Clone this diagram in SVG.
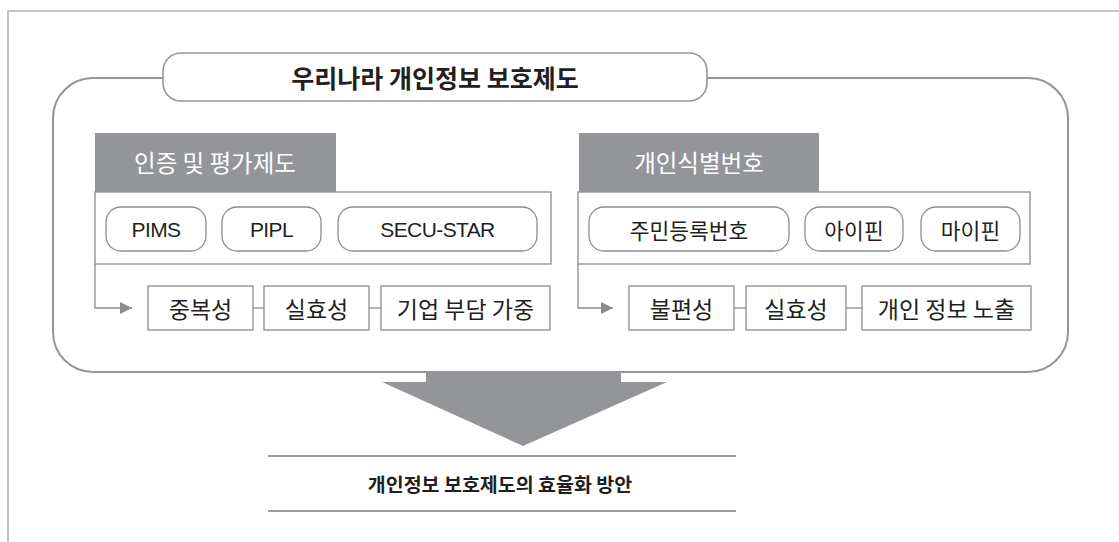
<svg xmlns="http://www.w3.org/2000/svg" width="1119" height="542" viewBox="0 0 1119 542">
<defs>
<style>
.frame{fill:none;stroke:#b3b3b3;stroke-width:1.6}
.big{fill:#fff;stroke:#939598;stroke-width:2}
.pill{fill:#fff;stroke:#8c8c8f;stroke-width:1.3}
.box{fill:#fff;stroke:#8c8c8f;stroke-width:1.3}
.hdr{fill:#939598}
.conn{fill:none;stroke:#8c8c8f;stroke-width:1.3}
.t{font-family:"Noto Sans CJK KR","Noto Sans",sans-serif;fill:#231f20;text-anchor:middle;dominant-baseline:central}
.lat{font-family:"Liberation Sans","Noto Sans CJK KR",sans-serif;fill:#231f20;text-anchor:middle;dominant-baseline:central;font-size:21px;letter-spacing:-0.6px}
.hl{font-family:"Noto Sans CJK KR","Noto Sans",sans-serif;fill:#fff;text-anchor:middle;dominant-baseline:central;font-size:23.5px}
.rule{stroke:#9d9d9f;stroke-width:2.2}
</style>
<marker id="ah" viewBox="0 0 12 12" refX="12" refY="6" markerWidth="12" markerHeight="12" markerUnits="userSpaceOnUse" orient="auto">
<path d="M0,0 L12,6 L0,12 Z" fill="#8c8c8f"/>
</marker>
</defs>
<rect width="1119" height="542" fill="#fff"/>
<path class="frame" d="M8,542 V11 H1119"/>

<g id="main">
<rect class="big" x="53" y="78" width="1015" height="294" rx="40" ry="40"/>
</g>
<g id="title">
<rect x="163" y="53" width="544" height="48" rx="18" ry="18" fill="#fff" stroke="#939598" stroke-width="1.6"/>
<text class="t" x="435" y="77" font-size="25" font-weight="bold">우리나라 개인정보 보호제도</text>
</g>

<g id="cert">
<rect class="box" x="95" y="192" width="456" height="72"/>
<rect class="hdr" x="95" y="133" width="241" height="59"/>
<text class="hl" x="215" y="162">인증 및 평가제도</text>
</g>
<g id="pims"><rect class="pill" x="106" y="207" width="100" height="44" rx="15"/><text class="lat" x="156" y="229">PIMS</text></g>
<g id="pipl"><rect class="pill" x="222" y="207" width="99" height="44" rx="15"/><text class="lat" x="271.5" y="229">PIPL</text></g>
<g id="secu"><rect class="pill" x="338" y="207" width="199" height="44" rx="15"/><text class="lat" x="437.5" y="229">SECU-STAR</text></g>

<g id="ident">
<rect class="box" x="578" y="192" width="452" height="72"/>
<rect class="hdr" x="579" y="133" width="240" height="59"/>
<text class="hl" x="699" y="162">개인식별번호</text>
</g>
<g id="rrn"><rect class="pill" x="589" y="207" width="200" height="44" rx="15"/><text class="t" x="689" y="229" font-size="21.5">주민등록번호</text></g>
<g id="ipin"><rect class="pill" x="805" y="207" width="98" height="44" rx="15"/><text class="t" x="854" y="229" font-size="21.5">아이핀</text></g>
<g id="mypin"><rect class="pill" x="921" y="207" width="99" height="44" rx="15"/><text class="t" x="970.5" y="229" font-size="21.5">마이핀</text></g>

<g id="dup"><rect class="box" x="148" y="286" width="105" height="44"/><text class="t" x="200.5" y="308" font-size="23">중복성</text></g>
<g id="eff1"><rect class="box" x="264" y="286" width="105" height="44"/><text class="t" x="316.5" y="308" font-size="23">실효성</text></g>
<g id="burden"><rect class="box" x="381" y="286" width="169" height="44"/><text class="t" x="465.5" y="308" font-size="23">기업 부담 가중</text></g>

<g id="inconv"><rect class="box" x="629" y="286" width="105" height="44"/><text class="t" x="681.5" y="308" font-size="23">불편성</text></g>
<g id="eff2"><rect class="box" x="746" y="286" width="100" height="44"/><text class="t" x="796" y="308" font-size="23">실효성</text></g>
<g id="expose"><rect class="box" x="862" y="286" width="169" height="44"/><text class="t" x="946.5" y="308" font-size="23">개인 정보 노출</text></g>

<g id="connectors">
<path class="conn" d="M95,264 V308 H132" marker-end="url(#ah)"/>
<path class="conn" d="M253,308 H264"/>
<path class="conn" d="M369,308 H381"/>
<path class="conn" d="M578,264 V308 H613" marker-end="url(#ah)"/>
<path class="conn" d="M734,308 H746"/>
<path class="conn" d="M846,308 H862"/>
<path fill="#939598" d="M426,371 H621 V382 H667 L523,446 L382,382 H426 Z"/>
</g>

<g id="result">
<line class="rule" x1="268" y1="456" x2="736" y2="456"/>
<line class="rule" x1="268" y1="511" x2="736" y2="511"/>
<text class="t" x="500" y="483" font-size="19.5" font-weight="bold">개인정보 보호제도의 효율화 방안</text>
</g>
</svg>
